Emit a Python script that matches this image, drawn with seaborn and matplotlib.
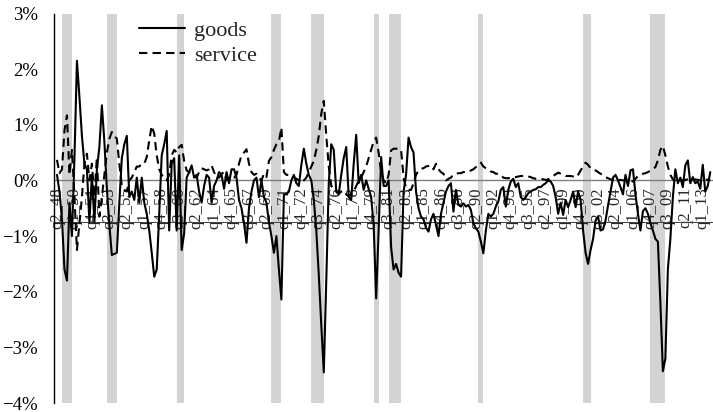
import matplotlib
matplotlib.use("Agg")
import matplotlib.pyplot as plt
import seaborn as sns
import numpy as np
import pandas as pd

# ---------------- data (percent) ----------------
goods = [
    0.1, -0.2, -0.7, -1.6, -1.8, -0.4, -1.0, 0.4, 2.15, 1.5,
    0.8, 0.3, 0.2, -0.75, 0.1, -0.75, 0.2, 0.6, 1.35, 0.7,
    -0.15, -0.8, -1.34, -1.32, -1.3, -0.4, 0.4, 0.65, 0.8, -0.3,
    -0.2, -0.35, 0.05, -0.4, 0.05, -0.4, -0.6, -0.9, -1.3, -1.73,
    -1.6, -0.6, 0.45, 0.65, 0.89, -0.9, 0.3, 0.4, -0.9, 0.45,
    -1.25, -0.95, 0.05, 0.15, 0.27, 0.05, 0.1, -0.2, -0.4, -0.1,
    0.1, 0.05, -0.4, -0.1, 0.0, 0.15, 0.1, -0.15, 0.15, -0.05,
    0.2, 0.2, 0.05, -0.35, -0.5, -0.77, -1.12, -0.5, -0.2, 0.0,
    0.05, -0.3, 0.0, -0.3, -0.4, -0.75, -1.0, -1.3, -1.0, -1.6,
    -2.14, -0.25, -0.25, -0.2, 0.0, 0.1, -0.05, -0.1, 0.28, 0.57,
    0.3, 0.1, 0.0, -0.35, -0.9, -1.7, -2.6, -3.45, -1.8, -0.05,
    0.65, 0.55, -0.2, -0.25, 0.1, 0.4, 0.6, -0.3, -0.35, 0.3,
    0.82, -0.05, 0.1, -0.17, 0.0, -0.15, -0.3, -0.8, -2.12, -0.9,
    0.42, -0.1, -0.1, 0.0, -1.2, -1.6, -1.5, -1.66, -1.73, -0.2,
    0.1, 0.77, 0.6, 0.5, -0.2, -0.5, -0.65, -0.7, -0.85, -0.92,
    -0.7, -0.6, -0.8, -1.0, -0.6, -0.4, -0.2, -0.1, -0.05, -0.56,
    -0.17, -0.44, -0.47, -0.41, -0.47, -0.44, -0.53, -0.77, -0.86, -0.92,
    -1.1, -1.31, -0.9, -0.6, -0.65, -0.6, -0.47, -0.38, -0.17, -0.12,
    -0.47, -0.17, -0.02, 0.03, -0.12, -0.05, -0.3, -0.35, -0.3, -0.23,
    -0.2, -0.17, -0.16, -0.12, -0.12, -0.08, -0.05, 0.0, -0.02, -0.1,
    -0.3, -0.6, -0.4, -0.62, -0.35, -0.48, -0.35, -0.2, -0.48, -0.2,
    -0.35, -0.9, -1.3, -1.5, -1.25, -1.05, -0.72, -0.65, -0.9, -0.88,
    -0.72, -0.45, -0.2, 0.05, 0.1, 0.0, -0.12, -0.25, 0.1, -0.1,
    0.18, 0.2, -0.25, -0.6, -0.9, -0.55, -0.5, -0.6, -0.77, -0.9,
    -1.05, -1.1, -2.2, -3.43, -3.2, -1.6, -1.05, -0.3, 0.2, -0.05,
    0.05, -0.12, 0.27, 0.36, -0.05, 0.06, -0.05, -0.02, -0.15, 0.28,
    -0.2, -0.1, 0.15,
]

service = [
    0.37, 0.13, 0.2, 0.9, 1.17, 0.1, 0.55, -0.3, -1.25, -0.77,
    -0.3, 0.3, 0.48, 0.0, 0.3, -0.3, 0.42, -0.65, -0.3, 0.1,
    0.5, 0.75, 0.87, 0.8, 0.75, 0.3, -0.1, -0.17, -0.2, 0.0,
    0.05, 0.15, 0.25, 0.25, 0.3, 0.3, 0.42, 0.72, 0.98, 0.84,
    0.45, 0.2, 0.1, 0.05, 0.0, 0.1, 0.45, 0.55, 0.5, 0.6,
    0.64, 0.35, 0.18, 0.15, 0.12, 0.08, 0.05, 0.15, 0.22, 0.2,
    0.18, 0.2, 0.27, 0.15, 0.05, 0.05, 0.12, 0.15, 0.0, 0.05,
    0.08, 0.05, 0.1, 0.3, 0.45, 0.5, 0.56, 0.3, 0.15, 0.1,
    0.12, 0.05, 0.0, 0.12, 0.06, 0.35, 0.42, 0.55, 0.65, 0.7,
    0.95, 0.15, 0.1, 0.1, 0.08, 0.06, 0.03, 0.0, -0.05, 0.0,
    0.05, 0.15, 0.25, 0.35, 0.55, 0.8, 1.2, 1.43, 0.8, 0.25,
    -0.1, -0.15, -0.2, -0.24, -0.2, -0.18, -0.25, -0.28, -0.25, -0.2,
    -0.1, 0.0, 0.05, 0.15, 0.25, 0.4, 0.55, 0.7, 0.77, 0.5,
    0.15, 0.0, -0.05, 0.1, 0.54, 0.57, 0.57, 0.57, 0.55, 0.05,
    -0.15, -0.17, -0.17, -0.05, 0.1, 0.18, 0.21, 0.22, 0.25, 0.26,
    0.27, 0.2, 0.3, 0.2, 0.15, 0.12, 0.0, 0.03, 0.05, 0.11,
    0.12, 0.13, 0.13, 0.15, 0.15, 0.15, 0.18, 0.2, 0.24, 0.27,
    0.32, 0.25, 0.22, 0.2, 0.16, 0.15, 0.12, 0.12, 0.1, 0.05,
    0.04, 0.04, 0.05, 0.05, 0.06, 0.07, 0.08, 0.08, 0.08, 0.07,
    0.06, 0.04, 0.03, 0.03, 0.03, 0.02, 0.01, 0.02, 0.04, 0.08,
    0.11, 0.14, 0.12, 0.1, 0.08, 0.08, 0.08, 0.07, 0.05, 0.1,
    0.18, 0.25, 0.32, 0.28, 0.22, 0.19, 0.18, 0.15, 0.12, 0.1,
    0.06, 0.04, 0.02, 0.01, -0.02, 0.0, 0.01, 0.0, 0.0, 0.01,
    0.0, -0.02, 0.03, 0.08, 0.1, 0.12, 0.13, 0.15, 0.18, 0.2,
    0.24, 0.36, 0.55, 0.62, 0.45, 0.25, 0.1, 0.02, -0.02, 0.0,
    0.02, 0.0, 0.01, 0.02, 0.01, 0.0, 0.02, 0.01, 0.0, 0.01,
    0.02, 0.01, 0.0,
]

# quarterly categories starting at 1948 Q2
first_year, first_q = 1948, 2
n = len(goods)
quarters = []
for i in range(n):
    k = (first_q - 1) + i
    quarters.append(f"q{k % 4 + 1}_{(first_year + k // 4) % 100:02d}")

tick_every = 7
tick_labels = quarters[::tick_every]

# recession periods (peak, trough)
rec_start = ["q4_48", "q2_53", "q2_60", "q4_69", "q4_73", "q1_80", "q3_81", "q3_90", "q1_01", "q4_07"]
rec_end   = ["q4_49", "q2_54", "q1_61", "q4_70", "q1_75", "q3_80", "q4_82", "q1_91", "q4_01", "q2_09"]

yticks = [-4, -3, -2, -1, 0, 1, 2, 3]
secondary_axis_level = -0.75   # thin secondary category-axis line seen through the labels

# ---------------- plot ----------------
sns.set_theme(style="white")
plt.rcParams["font.family"] = ["Liberation Serif", "DejaVu Serif"]

df = pd.DataFrame({"pos": np.arange(n), "quarter": quarters,
                   "goods": goods, "service": service})

fig = plt.figure(figsize=(7.13, 4.12), dpi=100)
ax = fig.add_axes([54 / 713, 1 - 403 / 412, 1 - 54 / 713, (403 - 13.5) / 412])

pos_of = {q: i for i, q in enumerate(quarters)}
for s, e in zip(rec_start, rec_end):
    ax.axvspan(pos_of[s], pos_of[e], color="#d3d3d3", lw=0, zorder=0)

sns.lineplot(data=df, x="pos", y="goods", ax=ax, color="black", lw=1.5,
             label="goods", zorder=3)
sns.lineplot(data=df, x="pos", y="service", ax=ax, color="black", lw=1.5,
             label="service", zorder=3)
ax.lines[-1].set_dashes((4, 2.5))

ax.axhline(0, color="#7f7f7f", lw=1.0, zorder=2)
ax.axhline(secondary_axis_level, color="#404040", lw=0.7, zorder=1)

ax.set_xlim(-1.2, 263.1)
ax.set_ylim(-4, 3)

# x axis sits on the zero line (set position first: it resets the ticks)
ax.spines["bottom"].set_position(("data", 0))
ax.spines["bottom"].set_visible(False)
ax.set_xticks(np.arange(0, n, tick_every))
ax.set_xticklabels(tick_labels)
ax.tick_params(axis="x", length=0, pad=5, labelsize=12, labelrotation=90)
for lab in ax.get_xticklabels():
    lab.set_verticalalignment("top")
    lab.set_horizontalalignment("center")

ax.set_yticks(yticks)
ax.set_yticklabels([f"{v}%".replace("-", "\u2212") for v in yticks], fontsize=13.5)
ax.tick_params(axis="y", direction="in", length=5, width=1, colors="black", pad=11.5)

for side in ["top", "right"]:
    ax.spines[side].set_visible(False)
ax.spines["left"].set_color("black")
ax.spines["left"].set_linewidth(1)

ax.set_xlabel("")
ax.set_ylabel("")
ax.grid(False)

leg = ax.legend(loc="upper left", bbox_to_anchor=(0.116, 1.005), frameon=False,
                fontsize=16, handlelength=2.05, handletextpad=0.4,
                labelspacing=0.2, borderaxespad=0)

fig.savefig("out.png", dpi=100)
